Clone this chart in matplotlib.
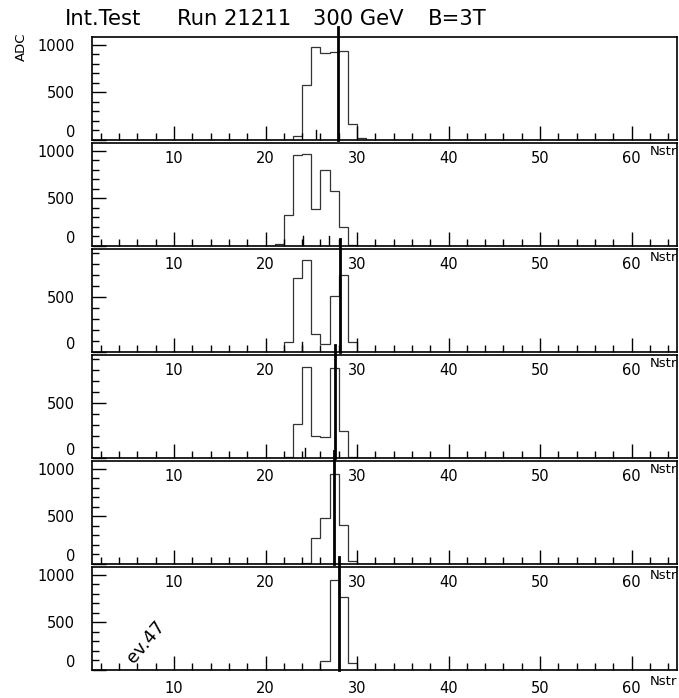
import matplotlib.pyplot as plt
import numpy as np

plt.rcParams['font.family'] = ['DejaVu Sans']

# strips 1..64, bin edges at integers
strip_edges = np.arange(1, 66)

# ADC counts per event view, starting at first_strip
first_strip = [23, 21, 22, 22, 24, 25]
adc_1 = [42, 580, 975, 920, 925, 940, 165, 18, 3]
adc_2 = [20, 330, 960, 965, 390, 800, 582, 203, 10]
adc_3 = [88, 670, 830, 161, 73, 503, 694, 88, 3]
adc_4 = [12, 306, 824, 203, 188, 815, 248, 12]
adc_5 = [8, 270, 488, 944, 410, 32]
adc_6 = [5, 98, 945, 765, 77, 5]
adc_all = [adc_1, adc_2, adc_3, adc_4, adc_5, adc_6]

# thick line (track position) and small markers
track_pos = [27.9, None, 28.15, 27.6, 27.5, 28.0]
markers = [[25.5], [24.1, 26.9], [24.0], [24.3], [], []]
y_top = [1080, 1080, 930, 930, 1080, 1080]

W, H = 679, 698
fig = plt.figure(figsize=(W / 100, H / 100), dpi=100)
fig.patch.set_facecolor('white')

left, right = 91.7, 677.3
panel_h = 102.7

axes = []
for i in range(6):
    bottom_px = 140 + 106 * i
    ax = fig.add_axes([left / W, 1 - bottom_px / H, (right - left) / W, panel_h / H])
    ax.patch.set_visible(False)

    counts = np.zeros(64)
    s = first_strip[i] - 1
    counts[s:s + len(adc_all[i])] = adc_all[i]
    ax.stairs(counts, strip_edges, color='#333333', lw=0.9)

    ax.set_xlim(1, 65)
    ax.set_ylim(0, y_top[i])

    if track_pos[i] is not None:
        ax.axvline(track_pos[i], 0, 1.1, color='k', lw=2.0, clip_on=False)
    for m in markers[i]:
        ax.axvline(m, 0, 0.1, color='k', lw=1.0)

    ax.set_xticks(np.arange(10, 61, 10))
    ax.set_xticks(np.arange(2, 65, 2), minor=True)
    yt = [v for v in (0, 500, 1000) if v <= y_top[i]]
    ax.set_yticks(yt)
    ax.set_yticks(np.arange(0, y_top[i], 100), minor=True)

    ax.tick_params(which='both', direction='in', top=False, right=False, width=1.0)
    ax.tick_params(which='major', length=10)
    ax.tick_params(which='minor', length=5)
    ax.tick_params(axis='y', pad=12, labelsize=10.5)
    ax.tick_params(axis='x', pad=8, labelsize=10.5)
    for sp in ax.spines.values():
        sp.set_linewidth(1.2)

    for lbl in ax.get_yticklabels():
        if lbl.get_text() == '0':
            lbl.set_verticalalignment('bottom')

    ax.text(1.0, -0.045, 'Nstr', transform=ax.transAxes, ha='right', va='top', fontsize=9.5)
    axes.append(ax)

axes[0].text(21 / W, 1 - 47 / H, 'ADC', transform=fig.transFigure, rotation=90,
             ha='center', va='center', fontsize=9.5)
axes[5].text(0.093, 0.27, 'ev.47', transform=axes[5].transAxes, rotation=50,
             ha='center', va='center', fontsize=13)

title_y = 1 - 25 / H
for txt, xpx in [('Int.Test', 65), ('Run 21211', 177), ('300 GeV', 313), ('B=3T', 428)]:
    fig.text(xpx / W, title_y, txt, ha='left', va='baseline', fontsize=15.2)

fig.savefig('out.png', dpi=100)
